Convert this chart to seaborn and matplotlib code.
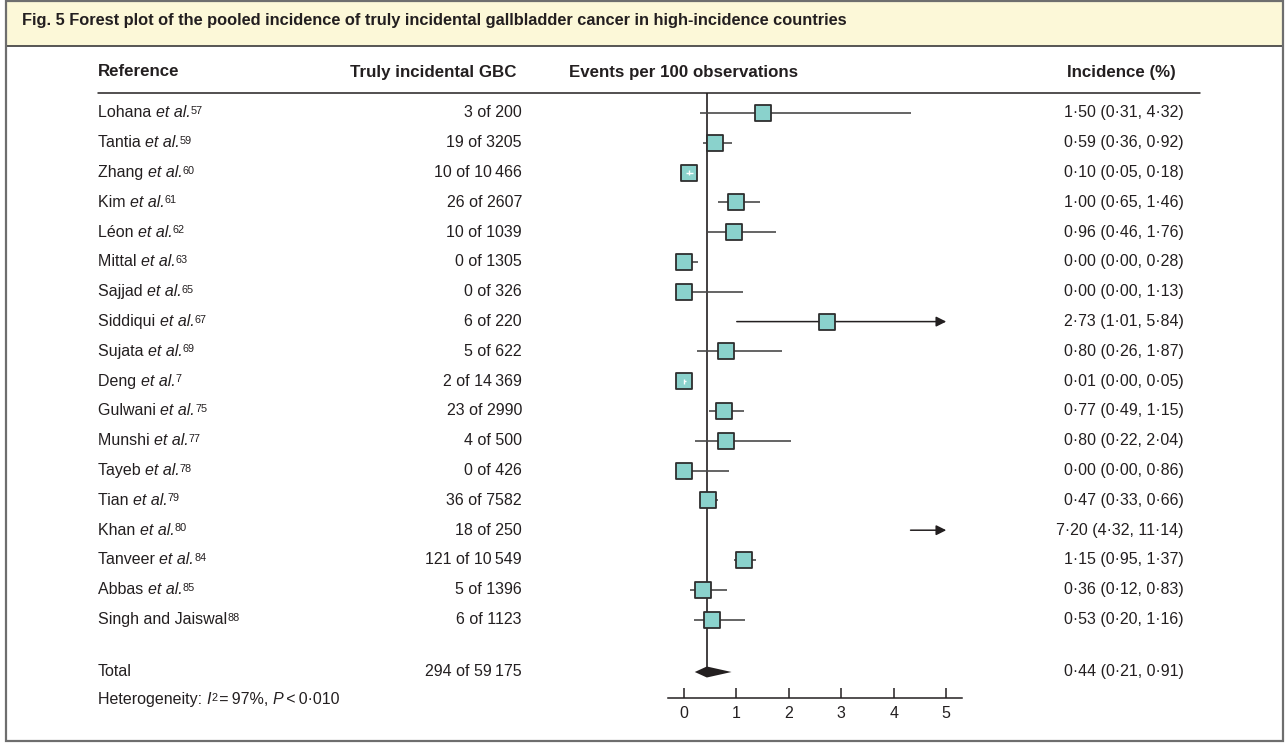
import matplotlib
matplotlib.use("Agg")
import matplotlib.pyplot as plt
import numpy as np
import pandas as pd
import seaborn as sns
from matplotlib import transforms
from matplotlib.patches import Rectangle
from matplotlib.lines import Line2D

sns.set_theme(style="white")
plt.rcParams["font.family"] = ["Liberation Sans", "DejaVu Sans"]

# ---- study data -------------------------------------------------------------
authors = ["Lohana", "Tantia", "Zhang", "Kim", "Léon", "Mittal", "Sajjad",
           "Siddiqui", "Sujata", "Deng", "Gulwani", "Munshi", "Tayeb", "Tian",
           "Khan", "Tanveer", "Abbas", "Singh and Jaiswal"]
et_al = [True] * 17 + [False]
ref_nums = ["57", "59", "60", "61", "62", "63", "65", "67", "69", "7", "75",
            "77", "78", "79", "80", "84", "85", "88"]
events = [3, 19, 10, 26, 10, 0, 0, 6, 5, 2, 23, 4, 0, 36, 18, 121, 5, 6]
totals = [200, 3205, 10466, 2607, 1039, 1305, 326, 220, 622, 14369, 2990,
          500, 426, 7582, 250, 10549, 1396, 1123]
incidence = [1.50, 0.59, 0.10, 1.00, 0.96, 0.00, 0.00, 2.73, 0.80, 0.01,
             0.77, 0.80, 0.00, 0.47, 7.20, 1.15, 0.36, 0.53]
ci_low = [0.31, 0.36, 0.05, 0.65, 0.46, 0.00, 0.00, 1.01, 0.26, 0.00, 0.49,
          0.22, 0.00, 0.33, 4.32, 0.95, 0.12, 0.20]
ci_high = [4.32, 0.92, 0.18, 1.46, 1.76, 0.28, 1.13, 5.84, 1.87, 0.05, 1.15,
           2.04, 0.86, 0.66, 11.14, 1.37, 0.83, 1.16]

pooled_events, pooled_total = 294, 59175
pooled_est, pooled_low, pooled_high = 0.44, 0.21, 0.91
i2_percent = 97
p_text = "0·010"
x_ticks = [0, 1, 2, 3, 4, 5]

title = ("Fig. 5 Forest plot of the pooled incidence of truly incidental "
         "gallbladder cancer in high-incidence countries")

# ---- styling ------------------------------------------------------------------
W, H = 1285, 748
INK = "#231F20"
BOX_FILL = "#8AD2CC"
BOX_EDGE = "#2E2E2E"
CI_COLOR = "#4A4A4A"
BAR_FILL = "#FCF8D8"
FRAME = "#6E6E6E"
NARROW_BOLD = ["Liberation Sans Narrow", "Liberation Sans", "DejaVu Sans"]
BODY = 11.5
SUP = 7.8

ROW0_PX, ROW_STEP_PX = 113, 29.8      # vertical layout of the study rows
TOP_PX, AXIS_PX = 93, 698             # header rule and x-axis line
X_LEFT_PX, X_RIGHT_PX = 668, 962      # plotting window in pixels
XMIN, XMAX = -0.3, 5.3
AXIS_MAX = 5


def fx(px):
    return px / W


def fy(py):
    return 1 - py / H


def dec(v):
    return f"{v:.2f}".replace(".", "·")


def count(n):
    s = f"{n}"
    if n >= 10000:
        s = s[:-3] + "\u2009" + s[-3:]
    return s


def row_y(px):
    return (px - ROW0_PX) / ROW_STEP_PX


fig = plt.figure(figsize=(W / 100, H / 100), dpi=100)
fig.patch.set_facecolor("white")

# frame and caption bar
fig.patches.append(Rectangle((fx(6), fy(46)), fx(1283) - fx(6), fy(1) - fy(46),
                             transform=fig.transFigure, facecolor=BAR_FILL,
                             edgecolor="none", zorder=0))
fig.lines.append(Line2D([fx(6), fx(1283)], [fy(46), fy(46)],
                        transform=fig.transFigure, color="#3A3A3A", lw=1.2))
fig.patches.append(Rectangle((fx(6), fy(741)), fx(1283) - fx(6), fy(1) - fy(741),
                             transform=fig.transFigure, facecolor="none",
                             edgecolor=FRAME, lw=1.6, zorder=5))
fig.text(fx(22), fy(21), title, family=NARROW_BOLD, weight="bold",
         fontsize=11.8, color=INK, va="center", ha="left")

# ---- forest panel -------------------------------------------------------------
ax = fig.add_axes([fx(X_LEFT_PX), fy(AXIS_PX), fx(X_RIGHT_PX) - fx(X_LEFT_PX),
                   fy(TOP_PX) - fy(AXIS_PX)])
ax.set_facecolor("none")
ax.set_xlim(XMIN, XMAX)
y_top, y_axis = row_y(TOP_PX), row_y(AXIS_PX)
ax.set_ylim(y_axis, y_top)

n = len(authors)
df = pd.DataFrame({
    "author": authors, "row": np.arange(n, dtype=float),
    "incidence": incidence, "low": ci_low, "high": ci_high,
})
total_row = row_y(672)

# pooled-estimate reference line
ax.vlines(pooled_est, y_top, total_row, color=INK, lw=1.2, zorder=1)

# confidence intervals (clipped at the axis end with an arrow)
for _, r in df.iterrows():
    lo, hi, y = r["low"], r["high"], r["row"]
    if hi > AXIS_MAX:
        ax.annotate("", xy=(AXIS_MAX, y), xytext=(lo, y),
                    arrowprops=dict(arrowstyle="-|>", color=INK, lw=1.1,
                                    mutation_scale=15, shrinkA=0, shrinkB=0),
                    zorder=2)
    else:
        ax.hlines(y, lo, hi, color=CI_COLOR, lw=1.2, zorder=2)

# study estimates
shown = df[df["incidence"] <= AXIS_MAX]
sns.scatterplot(data=shown, x="incidence", y="row", marker="s", s=140,
                color=BOX_FILL, edgecolor=BOX_EDGE, linewidth=1.3,
                legend=False, ax=ax, zorder=3)

# intervals narrower than the box stay visible in white
px_per_unit = (X_RIGHT_PX - X_LEFT_PX) / (XMAX - XMIN)
for _, r in shown.iterrows():
    if (r["high"] - r["low"]) * px_per_unit < 12:
        ax.hlines(r["row"], r["low"], r["high"], color="white", lw=1.0, zorder=4)
        ax.vlines(r["incidence"], r["row"] - 0.08, r["row"] + 0.08,
                  color="white", lw=1.0, zorder=4)

# pooled diamond
half_h = 5.5 / ROW_STEP_PX
ax.fill([pooled_low, pooled_est, pooled_high, pooled_est],
        [total_row, total_row - half_h, total_row, total_row + half_h],
        color=INK, lw=0, zorder=3)

ax.set_xlabel("")
ax.set_ylabel("")
ax.set_yticks([])
ax.set_xticks(x_ticks)
ax.set_xticklabels([str(t) for t in x_ticks])
for side in ["top", "right", "left"]:
    ax.spines[side].set_visible(False)
ax.spines["bottom"].set_color(INK)
ax.spines["bottom"].set_linewidth(1.1)
ax.tick_params(axis="x", direction="in", length=7, width=1.1, color=INK,
               labelsize=BODY, labelcolor=INK, pad=6, bottom=True)
ax.grid(False)

# ---- text columns -------------------------------------------------------------
tr = transforms.blended_transform_factory(fig.transFigure, ax.transData)

hdr_y = fy(72)
hdr = dict(family=NARROW_BOLD, weight="bold", fontsize=12.2, color=INK,
           va="center")
fig.text(fx(98), hdr_y, "Reference", ha="left", **hdr)
fig.text(fx(517), hdr_y, "Truly incidental GBC", ha="right", **hdr)
fig.text(fx(569), hdr_y, "Events per 100 observations", ha="left", **hdr)
fig.text(fx(1176), hdr_y, "Incidence (%)", ha="right", **hdr)
fig.lines.append(Line2D([fx(98), fx(1200)], [fy(TOP_PX), fy(TOP_PX)],
                        transform=fig.transFigure, color=INK, lw=1.1))


def label_with_ref(y, name, italic_part, ref):
    t = ax.text(fx(98), y, name, transform=tr, ha="left", va="center",
                fontsize=BODY, color=INK)
    last = t
    if italic_part:
        last = ax.annotate(italic_part, xy=(1, 0), xycoords=last, ha="left",
                           va="bottom", fontsize=BODY, style="italic",
                           color=INK)
    if ref:
        ax.annotate(ref, xy=(1, 0.3), xycoords=last, ha="left", va="bottom",
                    fontsize=SUP, color=INK)


for i in range(n):
    y = float(i)
    if et_al[i]:
        label_with_ref(y, authors[i] + " ", "et al.", ref_nums[i])
    else:
        label_with_ref(y, authors[i], "", ref_nums[i])
    ax.text(fx(522), y, f"{events[i]} of {count(totals[i])}", transform=tr,
            ha="right", va="center", fontsize=BODY, color=INK)
    ax.text(fx(1184), y,
            f"{dec(incidence[i])} ({dec(ci_low[i])}, {dec(ci_high[i])})",
            transform=tr, ha="right", va="center", fontsize=BODY, color=INK)

# pooled row
ax.text(fx(98), total_row, "Total", transform=tr, ha="left", va="center",
        fontsize=BODY, color=INK)
ax.text(fx(522), total_row, f"{pooled_events} of {count(pooled_total)}",
        transform=tr, ha="right", va="center", fontsize=BODY, color=INK)
ax.text(fx(1184), total_row,
        f"{dec(pooled_est)} ({dec(pooled_low)}, {dec(pooled_high)})",
        transform=tr, ha="right", va="center", fontsize=BODY, color=INK)

# heterogeneity statement
het_y = row_y(700)
h0 = ax.text(fx(98), het_y, "Heterogeneity: ", transform=tr, ha="left",
             va="center", fontsize=BODY, color=INK)
h1 = ax.annotate("I", xy=(1, 0), xycoords=h0, va="bottom", ha="left",
                 fontsize=BODY, style="italic", color=INK)
h2 = ax.annotate("2", xy=(1, 0.3), xycoords=h1, va="bottom", ha="left",
                 fontsize=SUP, color=INK)
h3 = ax.annotate(f"\u2009=\u2009{i2_percent}%, ", xy=(1, 0), xycoords=h1,
                 xytext=(3.5, 0), textcoords="offset points", va="bottom",
                 ha="left", fontsize=BODY, color=INK)
h4 = ax.annotate("P", xy=(1, 0), xycoords=h3, va="bottom", ha="left",
                 fontsize=BODY, style="italic", color=INK)
ax.annotate(f"\u2009<\u2009{p_text}", xy=(1, 0), xycoords=h4, va="bottom",
            ha="left", fontsize=BODY, color=INK)

fig.savefig("out.png", dpi=100, facecolor="white")
